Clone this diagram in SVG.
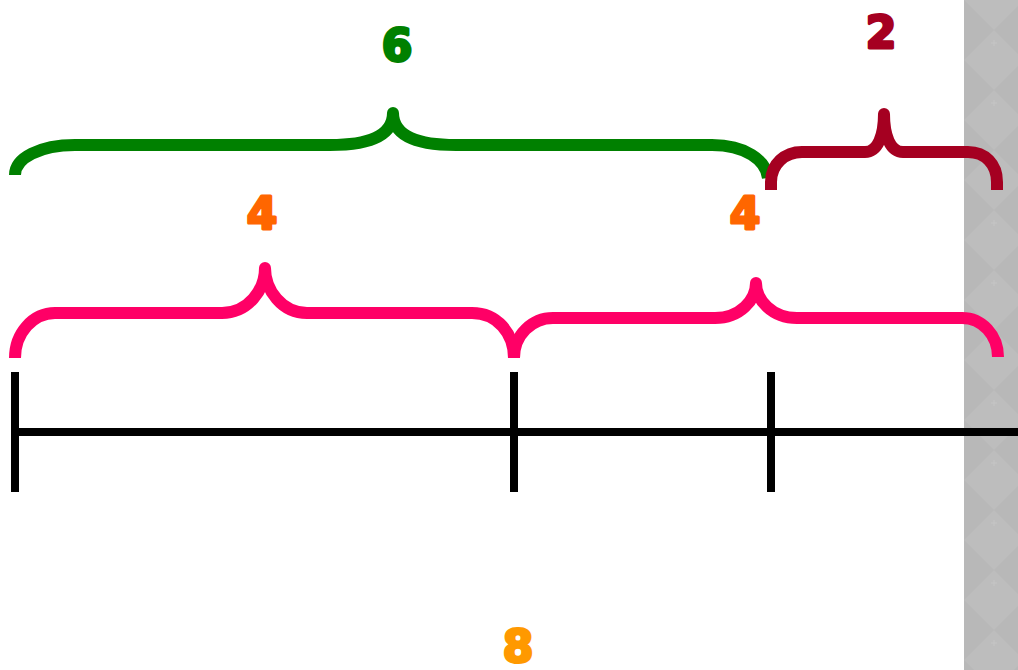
<svg xmlns="http://www.w3.org/2000/svg" width="1018" height="670" viewBox="0 0 1018 670">
<style>
.br{fill:none;stroke-width:12;stroke-linejoin:round;stroke-linecap:butt}
.ax{stroke:#000;stroke-width:8;fill:none}
.num{font-family:"DejaVu Sans",sans-serif;font-weight:bold;font-size:44px;text-anchor:middle;stroke-width:3;stroke-linejoin:round}
</style>
<defs>
<pattern id="dia" width="60" height="60" patternUnits="userSpaceOnUse" x="964" y="0">
<rect width="60" height="60" fill="#bdbdbd"/>
<path d="M0,0 L30,30 L0,60 Z M60,0 L30,30 L60,60 Z" fill="#b8b8b8"/>
<path d="M30,40 v6 M27,43 h6" stroke="#c6c6c6" stroke-width="1"/>
</pattern>
</defs>
<rect width="1018" height="670" fill="#fff"/>
<rect x="964" y="0" width="54" height="670" fill="url(#dia)"/>
<g id="connectors">
<path class="ax" d="M15,432 H1018"/>
<path class="ax" d="M15,372 V492 M514,372 V492 M771,372 V492"/>
</g>
<g id="brace-6"><path class="br" stroke="#008000" d="M15,175 C15,158 40,145 75,145 L330,145 C370,145 393,135 393,113 C393,135 416,145 456,145 L712,145 C745,145 766,160 768,178"/></g>
<g id="brace-2"><path class="br" stroke="#a50021" d="M771,190 L771,182 C771,164 785,152 802,152 L865,152 C878,152 884,135 884,114 C884,135 890,152 903,152 L968,152 C985,152 997,164 997,182 L997,190"/></g>
<g id="brace-4a"><path class="br" stroke="#ff0066" d="M15,358 C15,333 33,313 55,313 L222,313 C248,313 265,290 265,268 C265,290 282,313 307,313 L472,313 C497,313 514,333 514,358"/></g>
<g id="brace-4b"><path class="br" stroke="#ff0066" d="M514,358 C514,335 532,318 553,318 L715,318 C740,318 756,300 756,283 C756,300 772,318 797,318 L962,318 C982,318 998,335 998,357"/></g>
<g id="label-6"><text class="num" x="397" y="61" fill="#008000" stroke="#008000">6</text></g>
<g id="label-2"><text class="num" x="881" y="48" fill="#a50021" stroke="#a50021">2</text></g>
<g id="label-4a"><text class="num" x="262" y="229" fill="#ff6600" stroke="#ff6600">4</text></g>
<g id="label-4b"><text class="num" x="745" y="229" fill="#ff6600" stroke="#ff6600">4</text></g>
<g id="label-8"><text class="num" x="518" y="662" fill="#ff9900" stroke="#ff9900">8</text></g>
</svg>
